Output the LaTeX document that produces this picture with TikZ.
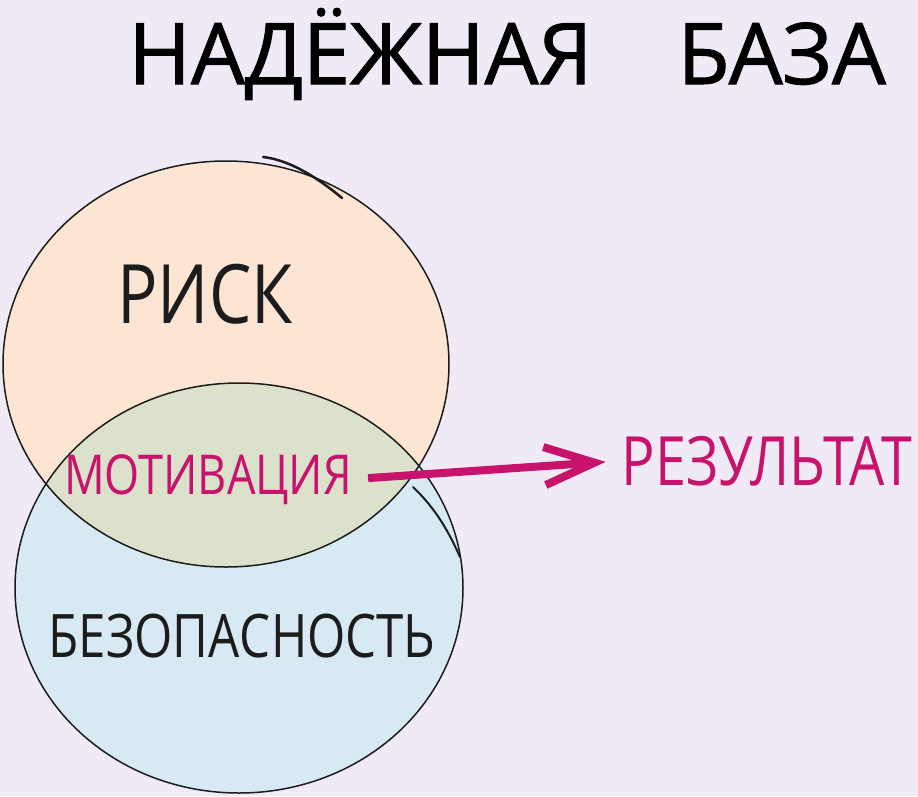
\documentclass[tikz,border=0pt]{standalone}
\usepackage{fontspec}
\setmainfont{Open Sans}
\newfontfamily\handfont[FakeStretch=0.82]{Open Sans}
\newfontfamily\headfont[FakeBold=1.2]{Open Sans}
\usetikzlibrary{arrows.meta}
\definecolor{paper}{HTML}{EFEAF6}
\definecolor{peach}{HTML}{FCE5D3}
\definecolor{sky}{HTML}{D7EAF4}
\definecolor{overlap}{HTML}{DCE1CC}
\definecolor{ink}{HTML}{1C1C1C}
\definecolor{berry}{HTML}{C8136C}
\tikzset{
	word/.style={
		% The font:
		font=\handfont,text=ink,
		% The placement:
		anchor=base,inner sep=0pt}}
\tikzset{
	ring/.style={
		% The border:
		draw=ink,line width=1.5pt}}

\begin{document}
\begin{tikzpicture}[x=1pt,y=-1pt]
	\useasboundingbox[fill=paper] (0,0) rectangle (918,796);
	% The two circles
	\fill[peach] (226,364) ellipse [x radius=223,y radius=203];
	\fill[sky] (239,588) ellipse [x radius=224,y radius=205];
	\begin{scope}
		\clip (226,364) ellipse [x radius=223,y radius=203];
		\fill[overlap] (239,588) ellipse [x radius=224,y radius=205];
	\end{scope}
	\draw[ring] (226,364) ellipse [x radius=223,y radius=203];
	\draw[ring] (239,588) ellipse [x radius=224,y radius=205];
	% Pen strokes drawn twice
	\draw[ink,line width=2.5pt,line cap=round] (263,157) .. controls (290,160) and (318,178) .. (342,198);
	\draw[ink,line width=2pt,line cap=round] (413,487) .. controls (435,508) and (448,530) .. (460,557);
	% Labels
	\node[word,text=black,font=\headfont\fontsize{85}{94}\selectfont] (title) at (507,84) {НАДЁЖНАЯ\hspace{85pt}БАЗА};
	\node[word,font=\handfont\fontsize{82}{90}\selectfont] (risk) at (205,323) {РИСК};
	\node[word,text=berry,font=\handfont\fontsize{55}{60}\selectfont] (motiv) at (208,494) {МОТИВАЦИЯ};
	\node[word,font=\handfont\fontsize{60}{66}\selectfont] (safe) at (242,657) {БЕЗОПАСНОСТЬ};
	\node[word,text=berry,font=\handfont\fontsize{68}{74}\selectfont] (result) at (767,485) {РЕЗУЛЬТАТ};
	% Line out of motiv
	\draw[berry,line width=8pt,shorten <=16pt,shorten >=16pt,
		-{Straight Barb[length=50pt,width=38pt]}] (motiv.east) -- (result.west);
\end{tikzpicture}
\end{document}
